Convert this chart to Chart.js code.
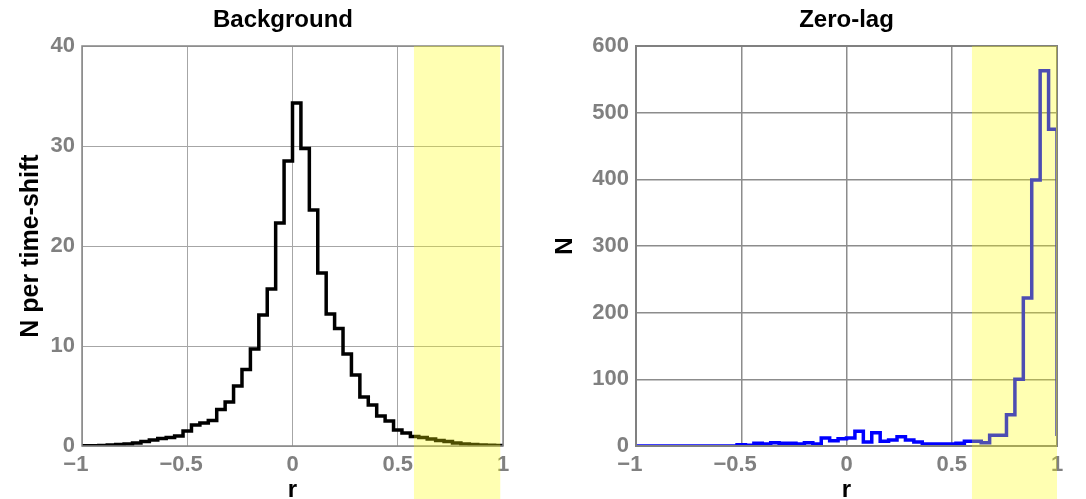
<!DOCTYPE html>
<html>
<head>
<meta charset="utf-8">
<title>r distributions</title>
<script src="https://cdn.jsdelivr.net/npm/chart.js@4.4.0/dist/chart.umd.min.js"></script>
<style>
    html, body { margin: 0; padding: 0; background: #fff; }
    body { width: 1086px; height: 499px; position: relative; overflow: hidden; }
    .panel { position: absolute; top: 0; }
    #bgPanel { left: 0; }
    #zlPanel { left: 543px; }
</style>
</head>
<body>
<div class="panel" id="bgPanel"><canvas id="bgChart" width="566" height="499"></canvas></div>
<div class="panel" id="zlPanel"><canvas id="zlChart" width="543" height="499"></canvas></div>
<script>
// Left edges of the 0.04-wide r bins, closed by the edge at r = 1
const binEdges = [
    -1, -0.96, -0.92, -0.88, -0.84, -0.8, -0.76, -0.72, -0.68, -0.64,
    -0.6, -0.56, -0.52, -0.48, -0.44, -0.4, -0.36, -0.32, -0.28, -0.24,
    -0.2, -0.16, -0.12, -0.08, -0.04, 0, 0.04, 0.08, 0.12, 0.16,
    0.2, 0.24, 0.28, 0.32, 0.36, 0.4, 0.44, 0.48, 0.52, 0.56,
    0.6, 0.64, 0.68, 0.72, 0.76, 0.8, 0.84, 0.88, 0.92, 0.96, 1,
];

// Background: counts per time-shift in each bin (last value sits on r = 1)
const backgroundCounts = [
    0.02, 0.03, 0.05, 0.1, 0.15, 0.2, 0.3, 0.45, 0.6, 0.75,
    0.85, 1.0, 1.5, 2.1, 2.3, 2.55, 3.65, 4.4, 6.0, 7.65,
    9.7, 13.1, 15.7, 22.3, 28.5, 34.3, 29.75, 23.6, 17.3, 13.2,
    11.75, 9.2, 7.1, 4.9, 4.1, 3.0, 2.5, 1.6, 1.3, 0.95,
    0.85, 0.7, 0.55, 0.45, 0.3, 0.2, 0.15, 0.1, 0.07, 0.04, 0.02,
];

// Zero-lag: raw counts in each bin
const zeroLagCounts = [
    0, 0, 0, 0, 0, 0, 0, 0, 0, 0,
    0, 0, 2, 1, 4, 3, 5, 4, 4, 3,
    5, 3, 12, 8, 11, 12, 22, 6, 20, 7,
    9, 14, 9, 6, 3, 3, 3, 3, 4, 7,
    7, 5, 16, 16, 47, 100, 222, 399, 563, 475, 15,
];

const rTicks = [-1, -0.5, 0, 0.5, 1];
const backgroundTicks = [0, 10, 20, 30, 40];
const zeroLagTicks = [0, 100, 200, 300, 400, 500, 600];

const FONT = "'Liberation Sans', Arial, Helvetica, sans-serif";

/**
 * Box around the plot area, then the translucent selection band on top
 */
const framePlugin = {
    id: 'frame',
    afterDatasetsDraw(chart, args, opts) {
        const { ctx, chartArea: a } = chart;
        ctx.save();
        ctx.strokeStyle = opts.color;
        ctx.lineWidth = opts.width;
        ctx.strokeRect(a.left, a.top, a.right - a.left, a.bottom - a.top);
        ctx.restore();
    },
    afterDraw(chart, args, opts) {
        const { ctx, chartArea: a } = chart;
        const x = chart.scales.x;
        const x0 = x.getPixelForValue(opts.band[0]);
        const x1 = x.getPixelForValue(opts.band[1]);
        ctx.save();
        ctx.fillStyle = 'rgba(255, 255, 0, 0.3)';
        ctx.fillRect(x0, a.top, x1 - x0, chart.height - a.top);
        ctx.restore();
    },
};

function stepPoints(counts) {
    return binEdges.map((r, i) => ({ x: r, y: counts[i] }));
}

// minus sign sticks out to the left, digits stay centred on the tick
function rLabel(v) {
    if (v < 0) return '\u2212' + String(-v) + '\u2007';
    return String(v);
}

function makeChart(canvasId, cfg) {
    const scales = {
        x: {
            type: 'linear',
            min: -1,
            max: 1,
            afterBuildTicks: axis => { axis.ticks = rTicks.map(v => ({ value: v })); },
            afterFit: axis => { axis.height = 53; },
            grid: { color: cfg.gridColor, lineWidth: cfg.gridWidth, drawTicks: false },
            border: { display: false },
            ticks: {
                color: '#808080',
                font: { family: FONT, size: 22, weight: 'bold' },
                padding: 6,
                maxRotation: 0,
                autoSkip: false,
                callback: rLabel,
            },
            title: {
                display: true,
                text: 'r',
                color: '#000',
                font: { family: FONT, size: 24, weight: 'bold', lineHeight: 0.7 },
                padding: 0,
            },
        },
        y: {
            min: cfg.yTicks[0],
            max: cfg.yTicks[cfg.yTicks.length - 1],
            afterBuildTicks: axis => { axis.ticks = cfg.yTicks.map(v => ({ value: v })); },
            afterFit: axis => { axis.width = cfg.yWidth; },
            grid: { color: cfg.gridColor, lineWidth: cfg.gridWidth, drawTicks: false },
            border: { display: false },
            ticks: {
                color: '#808080',
                font: { family: FONT, size: 22, weight: 'bold' },
                padding: 7,
                autoSkip: false,
            },
            title: {
                display: true,
                text: cfg.yTitle,
                color: '#000',
                font: { family: FONT, size: cfg.yTitleSize, weight: 'bold' },
                padding: { top: cfg.yTitlePad, bottom: 0 },
            },
        },
    };

    // empty right-hand axis just reserves the gap to the canvas edge
    if (cfg.rightGap) {
        scales.gap = {
            type: 'linear',
            position: 'right',
            grid: { display: false },
            border: { display: false },
            ticks: { display: false },
            afterFit: axis => { axis.width = cfg.rightGap; },
        };
    }

    return new Chart(document.getElementById(canvasId), {
        type: 'line',
        data: {
            datasets: [{
                data: stepPoints(cfg.counts),
                xAxisID: 'x',
                yAxisID: 'y',
                stepped: 'before',
                borderColor: cfg.lineColor,
                borderWidth: 3.5,
                pointRadius: 0,
                fill: false,
                tension: 0,
            }],
        },
        plugins: [framePlugin],
        options: {
            responsive: false,
            animation: false,
            devicePixelRatio: 1,
            layout: { padding: { left: 0, right: cfg.padRight, top: 0, bottom: 0 } },
            plugins: {
                legend: { display: false },
                tooltip: { enabled: false },
                title: {
                    display: true,
                    text: cfg.title,
                    color: '#000',
                    fullSize: cfg.titleFullSize,
                    font: { family: FONT, size: 24, weight: 'bold' },
                    padding: { top: 6, bottom: 11.2 },
                },
                frame: { color: cfg.frameColor, width: cfg.frameWidth, band: cfg.band },
            },
            scales: scales,
        },
    });
}

makeChart('bgChart', {
    title: 'Background',
    titleFullSize: true,
    yTitle: 'N per time-shift',
    yTitleSize: 25,
    yTitlePad: 16,
    counts: backgroundCounts,
    yTicks: backgroundTicks,
    lineColor: '#000000',
    gridColor: '#a6a6a6',
    gridWidth: 1,
    frameColor: '#868686',
    frameWidth: 1.5,
    yWidth: 82,
    padRight: 0,
    rightGap: 63,
    band: [0.577, 0.987],
});

makeChart('zlChart', {
    title: 'Zero-lag',
    titleFullSize: false,
    yTitle: 'N',
    yTitleSize: 24,
    yTitlePad: 8,
    counts: zeroLagCounts,
    yTicks: zeroLagTicks,
    lineColor: '#0000ff',
    gridColor: '#8c8c8c',
    gridWidth: 1.5,
    frameColor: '#808080',
    frameWidth: 2,
    yWidth: 93,
    padRight: 29,
    rightGap: 0,
    band: [0.596, 1.0],
});
</script>
</body>
</html>
